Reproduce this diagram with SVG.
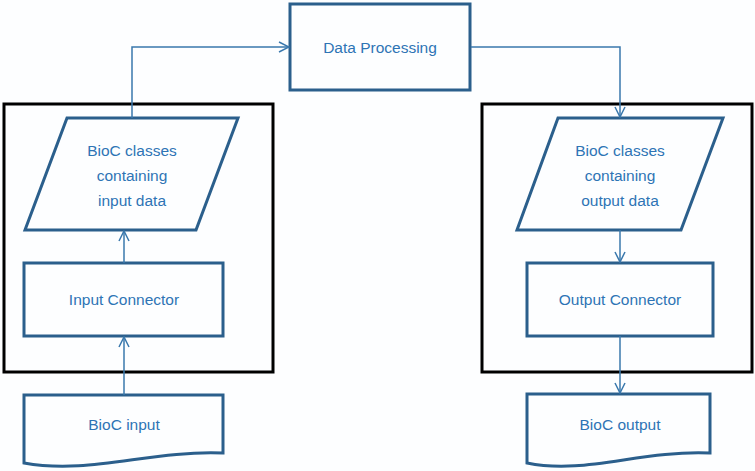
<svg xmlns="http://www.w3.org/2000/svg" width="755" height="471" viewBox="0 0 755 471">
<defs>
<style>
.node{fill:none;stroke:#2b5f8c;stroke-width:3;stroke-linejoin:miter}
.frame{fill:none;stroke:#000;stroke-width:3}
.lbl{font-family:"Liberation Sans",Arial,sans-serif;font-size:15.5px;fill:#2e74b5;text-anchor:middle}
.conn{fill:none;stroke:#3a78ad;stroke-width:1.5}
</style>
<marker id="arr" viewBox="0 0 12 12" refX="11" refY="6" markerWidth="12" markerHeight="12" markerUnits="userSpaceOnUse" orient="auto">
<path d="M1,1 L11,6 L1,11" fill="none" stroke="#3a78ad" stroke-width="1.5"/>
</marker>
</defs>
<rect width="755" height="471" fill="#fdfeff"/>
<g id="input-frame"><rect class="frame" x="4" y="104" width="269" height="268"/></g>
<g id="output-frame"><rect class="frame" x="482" y="104" width="270" height="268"/></g>
<g id="data-processing">
<rect class="node" x="290" y="4" width="180" height="86"/>
<text class="lbl" x="380" y="53">Data Processing</text>
</g>
<g id="bioc-classes-input">
<polygon class="node" points="67,118 238,118 196,230 25,230"/>
<text class="lbl" x="132" y="156">BioC classes</text>
<text class="lbl" x="132" y="181">containing</text>
<text class="lbl" x="132" y="206">input data</text>
</g>
<g id="input-connector">
<rect class="node" x="24" y="263" width="199" height="73"/>
<text class="lbl" x="124" y="305">Input Connector</text>
</g>
<g id="bioc-input">
<path class="node" d="M24,463 L24,395 L223,395 L223,453 C150,450 90,475 24,463 Z"/>
<text class="lbl" x="124" y="430">BioC input</text>
</g>
<g id="bioc-classes-output">
<polygon class="node" points="558,118 723,118 681,230 517,230"/>
<text class="lbl" x="620" y="156">BioC classes</text>
<text class="lbl" x="620" y="181">containing</text>
<text class="lbl" x="620" y="206">output data</text>
</g>
<g id="output-connector">
<rect class="node" x="527" y="263" width="186" height="73"/>
<text class="lbl" x="620" y="305">Output Connector</text>
</g>
<g id="bioc-output">
<path class="node" d="M527,463 L527,394 L710,394 L710,453 C640,450 585,475 527,463 Z"/>
<text class="lbl" x="620" y="430">BioC output</text>
</g>
<g id="connectors">
<polyline class="conn" points="132,118 132,47 289,47" marker-end="url(#arr)"/>
<polyline class="conn" points="471,47 620,47 620,117" marker-end="url(#arr)"/>
<line class="conn" x1="124" y1="263" x2="124" y2="231" marker-end="url(#arr)"/>
<line class="conn" x1="124" y1="395" x2="124" y2="337" marker-end="url(#arr)"/>
<line class="conn" x1="620" y1="230" x2="620" y2="262" marker-end="url(#arr)"/>
<line class="conn" x1="620" y1="336" x2="620" y2="393" marker-end="url(#arr)"/>
</g>
</svg>
